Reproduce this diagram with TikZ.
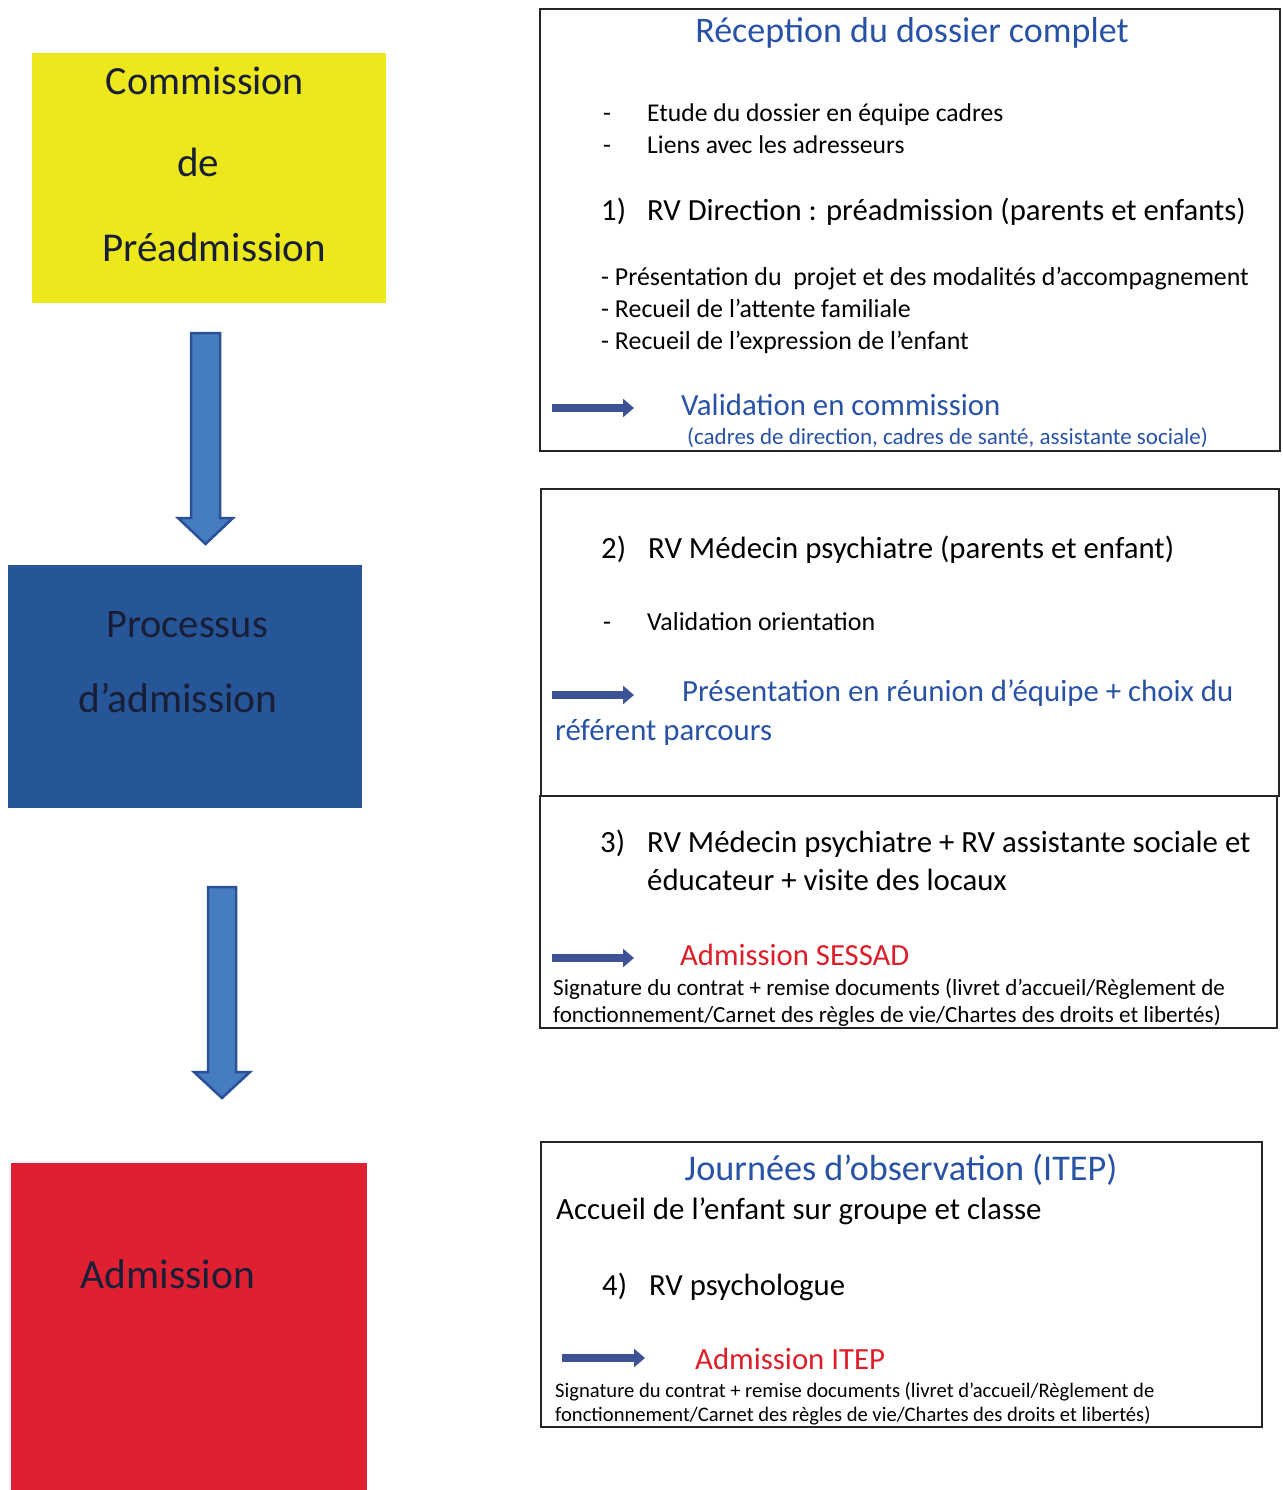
\documentclass[tikz,border=0pt]{standalone}
\usepackage{fontspec}
\setmainfont{Carlito}
\usetikzlibrary{arrows.meta}
\definecolor{ybox}{RGB}{236,232,28}
\definecolor{bbox}{RGB}{38,86,152}
\definecolor{rbox}{RGB}{222,32,48}
\definecolor{txtblue}{RGB}{40,82,165}
\definecolor{txtred}{RGB}{220,30,40}
\definecolor{arrfill}{RGB}{70,125,192}
\definecolor{arrline}{RGB}{42,80,150}
\definecolor{smallarr}{RGB}{62,82,150}
\definecolor{darktxt}{RGB}{25,30,55}
\newcommand{\fs}[1]{\fontsize{#1}{#1}\selectfont}
\begin{document}
\begin{tikzpicture}[x=1pt,y=-1pt,
  txt/.style={inner sep=0pt,anchor=base west,text=black},
  ctxt/.style={inner sep=0pt,anchor=base,text=black},
  frame/.style={draw=black!85,line width=1.2pt},
  bigarrow/.style={fill=arrfill,draw=arrline,line width=2.5pt,line join=miter},
  smallarrow/.style={draw=smallarr,line width=8pt,-{Triangle[length=11pt,width=18pt]}}]
\useasboundingbox (0,0) rectangle (1282,1490);
% left coloured boxes
\fill[ybox] (32,53) rectangle (386,303);
\node[ctxt,text=darktxt] (c1) at (205,95) {\fs{40}Commission};
\node[ctxt,text=darktxt] (c2) at (198,177) {\fs{41}de};
\node[ctxt,text=darktxt] (c3) at (214,261) {\fs{41}Préadmission};
\fill[bbox] (8,565) rectangle (362,808);
\node[ctxt,text=darktxt] (p1) at (187,637) {\fs{40.5}Processus};
\node[ctxt,text=darktxt] (p2) at (178,712) {\fs{41.5}d’admission};
\fill[rbox] (11,1163) rectangle (367,1490);
\node[ctxt,text=darktxt] (a1) at (168,1288) {\fs{41.5}Admission};
% big arrows
\draw[bigarrow] (191,333) -- (220,333) -- (220,518) -- (233,518) -- (205.5,544) -- (178,518) -- (191,518) -- cycle;
\draw[bigarrow] (208,887) -- (236,887) -- (236,1072) -- (250,1072) -- (222,1098) -- (194,1072) -- (208,1072) -- cycle;
% right frames
\draw[frame] (540,9) rectangle (1280,451);
\draw[frame] (541,489) rectangle (1279,796);
\draw[frame] (540,796) rectangle (1277,1028);
\draw[frame] (541,1142) rectangle (1262,1427);
% box 1
\node[ctxt,text=txtblue] (t1) at (912,43) {\fs{36}Réception du dossier complet};
\node[txt] (d1) at (603,122) {\fs{25.6}-};
\node[txt] (e1) at (647,122) {\fs{25.6}Etude du dossier en équipe cadres};
\node[txt] (d2) at (603,154) {\fs{25.6}-};
\node[txt] (e2) at (647,154) {\fs{25.6}Liens avec les adresseurs};
\node[txt] (n1) at (601,220) {\fs{30.7}1)};
\node[txt] (r1) at (647,220) {\fs{30.7}RV Direction : préadmission (parents et enfants)};
\node[txt] (b1) at (601,285) {\fs{25.9}- Présentation du \ projet et des modalités d’accompagnement};
\node[txt] (b2) at (601,317) {\fs{25.9}- Recueil de l’attente familiale};
\node[txt] (b3) at (601,349) {\fs{25.9}- Recueil de l’expression de l’enfant};
\coordinate (s1a) at (552,408);
\coordinate (s1b) at (634,408);
\draw[smallarrow] (s1a) -- (s1b);
\node[txt,text=txtblue] (v1) at (681,415) {\fs{30.8}Validation en commission};
\node[txt,text=txtblue] (v2) at (687,444) {\fs{23}(cadres de direction, cadres de santé, assistante sociale)};
% box 2
\node[txt] (n2) at (601,558) {\fs{30.8}2)};
\node[txt] (r2) at (648,558) {\fs{30.8}RV Médecin psychiatre (parents et enfant)};
\node[txt] (d3) at (603,630) {\fs{25.9}-};
\node[txt] (e3) at (647,630) {\fs{25.9}Validation orientation};
\coordinate (s2a) at (552,695);
\coordinate (s2b) at (634,695);
\draw[smallarrow] (s2a) -- (s2b);
\node[txt,text=txtblue] (v3) at (682,701) {\fs{30.8}Présentation en réunion d’équipe + choix du};
\node[txt,text=txtblue] (v4) at (555,740) {\fs{30.8}référent parcours};
% box 3
\node[txt] (n3) at (600,852) {\fs{30.8}3)};
\node[txt] (r3) at (647,852) {\fs{30.8}RV Médecin psychiatre + RV assistante sociale et};
\node[txt] (r4) at (647,890) {\fs{30.8}éducateur + visite des locaux};
\coordinate (s3a) at (552,958);
\coordinate (s3b) at (634,958);
\draw[smallarrow] (s3a) -- (s3b);
\node[txt,text=txtred] (v5) at (680,965) {\fs{30.7}Admission SESSAD};
\node[txt] (g1) at (553,995) {\fs{23.1}Signature du contrat + remise documents (livret d’accueil/Règlement de};
\node[txt] (g2) at (553,1022) {\fs{23.1}fonctionnement/Carnet des règles de vie/Chartes des droits et libertés)};
% box 4
\node[ctxt,text=txtblue] (t4) at (901,1180) {\fs{36.2}Journées d’observation (ITEP)};
\node[txt] (h1) at (556,1219) {\fs{30.9}Accueil de l’enfant sur groupe et classe};
\node[txt] (n4) at (602,1295) {\fs{30.7}4)};
\node[txt] (r5) at (649,1295) {\fs{30.7}RV psychologue};
\coordinate (s4a) at (562,1358);
\coordinate (s4b) at (645,1358);
\draw[smallarrow] (s4a) -- (s4b);
\node[txt,text=txtred] (v6) at (695,1369) {\fs{30.8}Admission ITEP};
\node[txt] (g3) at (555,1397) {\fs{20.6}Signature du contrat + remise documents (livret d’accueil/Règlement de};
\node[txt] (g4) at (555,1421) {\fs{20.6}fonctionnement/Carnet des règles de vie/Chartes des droits et libertés)};
\end{tikzpicture}
\end{document}
